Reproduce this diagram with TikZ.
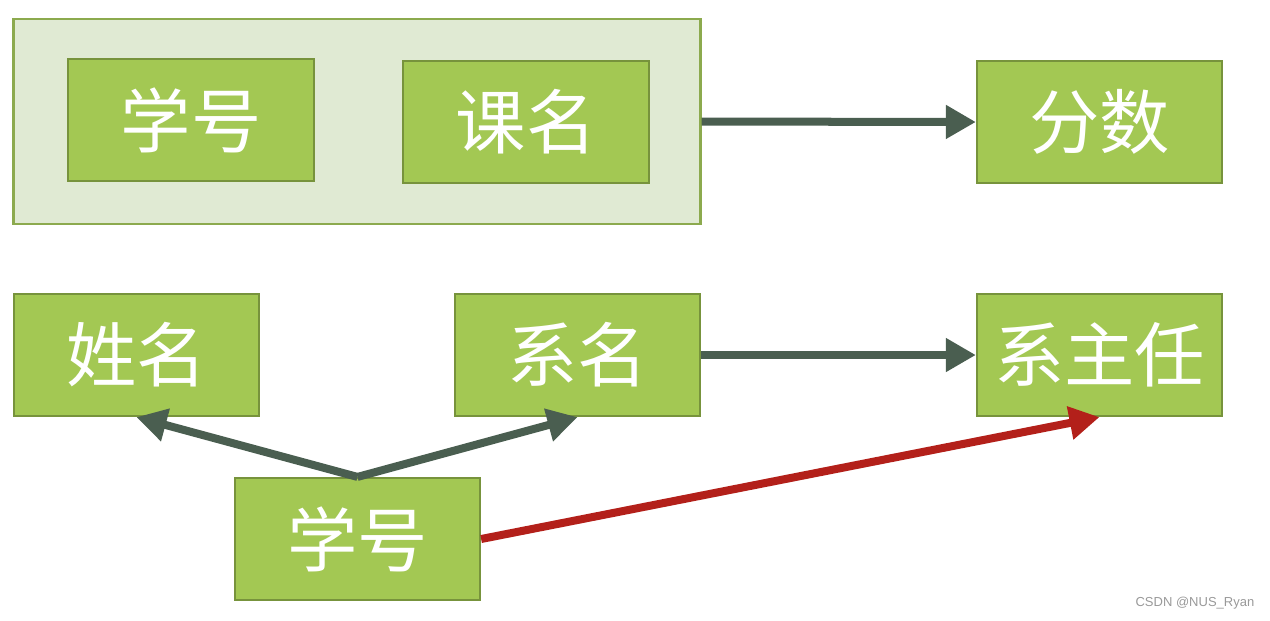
\documentclass[tikz,border=0pt]{standalone}
\usepackage{fontspec}
\newfontfamily\cjk{Noto Sans CJK SC}
\setsansfont{Liberation Sans}
\usetikzlibrary{arrows.meta}
\definecolor{boxgreen}{HTML}{A3C853}
\definecolor{boxedge}{HTML}{77933C}
\definecolor{groupfill}{HTML}{E0EAD3}
\definecolor{groupedge}{HTML}{8CAA4E}
\definecolor{fdarrow}{HTML}{4A5E50}
\definecolor{transred}{HTML}{B3201A}
\tikzset{
  attr/.style={draw=boxedge, fill=boxgreen, line width=0.6pt, text=white,
    minimum width=2.45cm, minimum height=1.22cm, inner sep=0pt,
    font=\cjk\fontsize{20}{24}\selectfont},
  fd/.style={draw=fdarrow, line width=0.08cm, -{Triangle[length=0.3cm, width=0.32cm]}},
  tfd/.style={fd, draw=transred}
}
\begin{document}
\begin{tikzpicture}[x=0.01cm, y=-0.01cm]
  \useasboundingbox (0,0) rectangle (1270,620);
  % key group
  \node[draw=groupedge, fill=groupfill, line width=0.8pt, minimum width=6.86cm,
    minimum height=2.05cm, inner sep=0pt] (key) at (357,121.5) {};
  \node[attr] (sno1) at (191,120) {学号};
  \node[attr] (cname) at (526,122) {课名};
  \node[attr] (score) at (1099.5,122) {分数};
  % second row
  \node[attr] (sname) at (136.5,355) {姓名};
  \node[attr] (dept) at (577.5,355) {系名};
  \node[attr] (head) at (1099.5,355) {系主任};
  \node[attr] (sno2) at (357.5,539) {学号};
  % dependencies
  \draw[fd] (key.east) -- (score.west);
  \draw[fd] (dept.east) -- (head.west);
  \draw[fd] (sno2.north) -- (sname.south);
  \draw[fd] (sno2.north) -- (dept.south);
  \draw[tfd] (sno2.east) -- (head.south);
  \node[text=gray!80, font=\sffamily\fontsize{3.7}{4}\selectfont, anchor=east, inner sep=0pt] (mark) at (1255,603) {CSDN @NUS\_Ryan};
\end{tikzpicture}
\end{document}
